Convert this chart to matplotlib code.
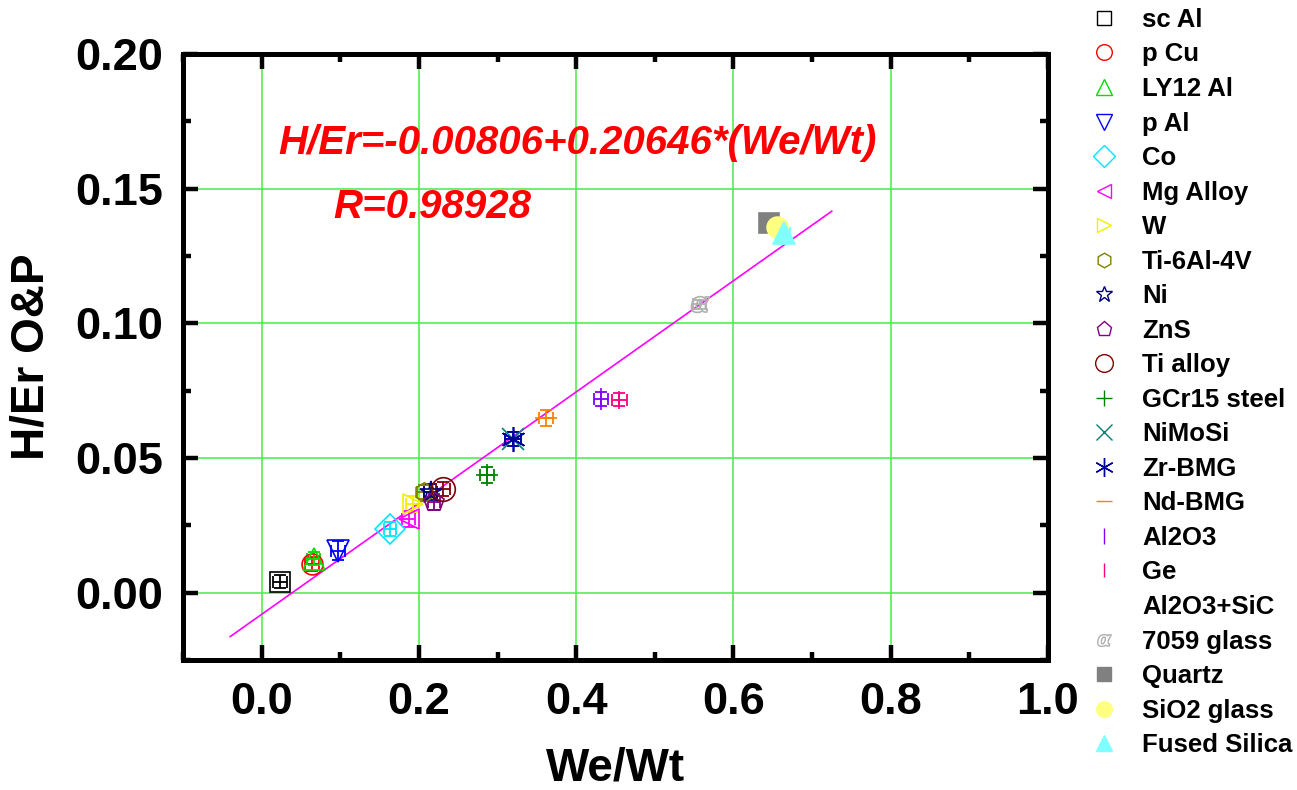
import matplotlib
matplotlib.use("Agg")
import matplotlib.pyplot as plt
from matplotlib.lines import Line2D
from matplotlib.ticker import MultipleLocator, FormatStrFormatter
import numpy as np

plt.rcParams['font.family'] = ['Liberation Sans', 'DejaVu Sans']
plt.rcParams['font.weight'] = 'bold'

# materials, in legend order
names = ['sc Al', 'p Cu', 'LY12 Al', 'p Al', 'Co', 'Mg Alloy', 'W', 'Ti-6Al-4V',
         'Ni', 'ZnS', 'Ti alloy', 'GCr15 steel', 'NiMoSi', 'Zr-BMG', 'Nd-BMG',
         'Al2O3', 'Ge', 'Al2O3+SiC', '7059 glass', 'Quartz', 'SiO2 glass',
         'Fused Silica']
we_wt = [0.023, 0.064, 0.066, 0.097, 0.163, 0.187, 0.192, 0.206,
         0.215, 0.219, 0.231, 0.287, 0.320, 0.320, 0.362,
         0.432, 0.455, None, 0.557, 0.645, 0.655, 0.664]
h_er = [0.0041, 0.0107, 0.0126, 0.0156, 0.0237, 0.0274, 0.0330, 0.0374,
        0.0374, 0.0337, 0.0385, 0.0437, 0.0570, 0.0570, 0.0648,
        0.0719, 0.0717, None, 0.1070, 0.1374, 0.1356, 0.1337]
x_err = [0.009, 0.009, 0.008, 0.009, 0.008, 0.008, 0.008, 0.008,
         0.008, 0.008, 0.009, 0.009, 0.010, 0.010, 0.009,
         0.009, 0.009, None, 0.008, 0.008, 0.008, 0.008]
y_err = [0.0025, 0.0025, 0.0025, 0.0035, 0.0025, 0.0030, 0.0030, 0.0025,
         0.0030, 0.0030, 0.0025, 0.0030, 0.0025, 0.0025, 0.0030,
         0.0025, 0.0025, None, 0.0015, 0.0015, 0.0015, 0.0015]
markers = ['s', 'o', '^', 'v', 'D', '<', '>', 'h', '*', 'p', 'o', '+', 'x',
           (6, 2, 0), '_', '|', '|', 's', r'$\alpha$', 's', 'o', '^']
colors = ['#000000', '#ff0000', '#00dd00', '#0000ff', '#00e5ff', '#ff00ff',
          '#f0f000', '#808000', '#000080', '#800080', '#800000', '#008000',
          '#008080', '#0000a0', '#ff8000', '#8000ff', '#ff0080', '#ffffff',
          '#b0b0b0', '#808080', '#ffff80', '#80ffff']
filled = [False] * 19 + [True, True, True]
sizes = [14, 15, 16, 16, 15, 14, 14, 14, 16, 15, 17, 16, 16, 18, 16, 16, 13,
         12, 13, 14, 15, 16]

# linear fit
fit_x = [-0.04, 0.725]
intercept, slope = -0.00806, 0.20646

fig = plt.figure(figsize=(12.97, 7.90), dpi=100)
ax = fig.add_axes([0.1411, 0.1646, 0.6669, 0.767])

ax.grid(True, color='#44ee44', lw=1.1, zorder=0)

fx = np.array(fit_x)
ax.plot(fx, intercept + slope * fx, color='#ff00ff', lw=1.2, zorder=2)

handles = []
for i, nm in enumerate(names):
    face = colors[i] if filled[i] else 'none'
    if we_wt[i] is not None:
        ax.errorbar(we_wt[i], h_er[i], xerr=x_err[i], yerr=y_err[i],
                    fmt='none', ecolor=colors[i], elinewidth=1.3,
                    capsize=4, capthick=1.3, zorder=3)
        ax.plot(we_wt[i], h_er[i], ls='none', marker=markers[i],
                ms=sizes[i], mec=colors[i], mfc=face, mew=1.2, zorder=4)
    handles.append(Line2D([], [], ls='none', marker=markers[i],
                          ms=sizes[i] * 0.75, mec=colors[i], mfc=face,
                          mew=1.0, label=nm))

ax.text(0.0217, 0.167, 'H/Er=-0.00806+0.20646*(We/Wt)', color='#ff0000',
        fontsize=29, fontweight='bold', fontstyle='italic', va='center')
ax.text(0.0917, 0.1432, 'R=0.98928', color='#ff0000',
        fontsize=29, fontweight='bold', fontstyle='italic', va='center')

ax.set_xlim(-0.1, 1.0)
ax.set_ylim(-0.025, 0.2)
ax.xaxis.set_major_locator(MultipleLocator(0.2))
ax.xaxis.set_minor_locator(MultipleLocator(0.1))
ax.yaxis.set_major_locator(MultipleLocator(0.05))
ax.yaxis.set_minor_locator(MultipleLocator(0.025))
ax.xaxis.set_major_formatter(FormatStrFormatter('%.1f'))
ax.yaxis.set_major_formatter(FormatStrFormatter('%.2f'))
ax.tick_params(which='both', direction='in', top=True, right=True,
               width=3.2, labelsize=32.5, color='black')
ax.tick_params(axis='x', which='major', length=11, pad=16)
ax.tick_params(axis='y', which='major', length=11, pad=14)
ax.tick_params(which='minor', length=6)
for lab in ax.get_xticklabels() + ax.get_yticklabels():
    lab.set_fontweight('bold')
for sp in ax.spines.values():
    sp.set_linewidth(3.6)

ax.set_xlabel('We/Wt', fontsize=33, fontweight='bold', labelpad=17)
ax.set_ylabel('H/Er O&P', fontsize=33, fontweight='bold', labelpad=16)

fig.legend(handles=handles, loc='upper left', bbox_to_anchor=(0.841, 0.99),
           frameon=False, prop={'family': 'Liberation Sans', 'weight': 'bold',
                                'size': 18.5},
           handlelength=1.0, handletextpad=1.0, labelspacing=0.41,
           borderpad=0, borderaxespad=0)

fig.savefig('out.png', dpi=100)
